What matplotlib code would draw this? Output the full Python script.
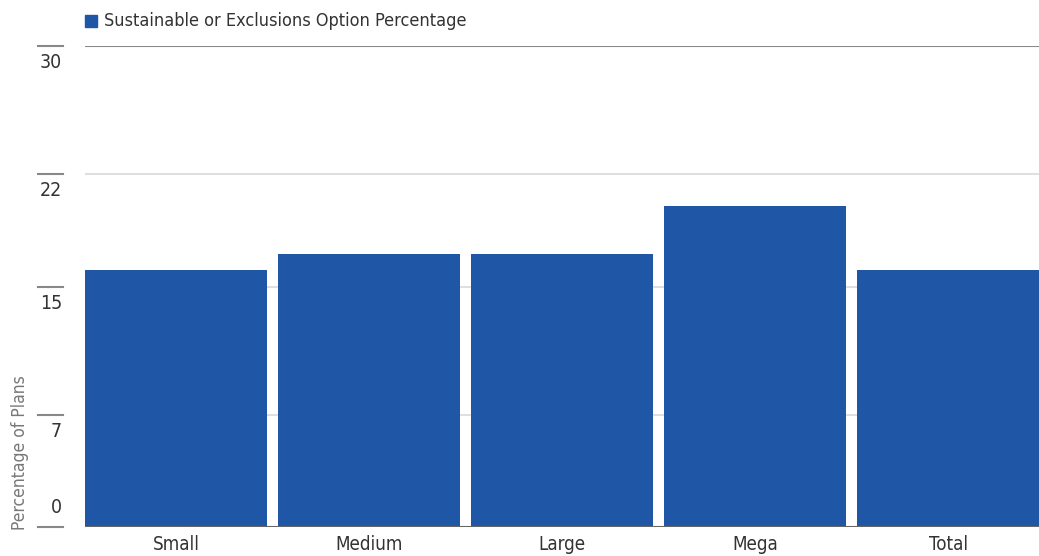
import matplotlib.pyplot as plt
from matplotlib.transforms import blended_transform_factory

# data
categories = ['Small', 'Medium', 'Large', 'Mega', 'Total']
values = [16, 17, 17, 20, 16]
yticks = [0, 7, 15, 22, 30]
series_name = 'Sustainable or Exclusions Option Percentage'

plt.rcParams['font.family'] = ['DejaVu Sans']
plt.rcParams['font.stretch'] = 'condensed'

bar_color = '#1f56a5'
W, H = 1039, 556
bw = 0.9415

fig = plt.figure(figsize=(W / 100, H / 100), dpi=100)
ax = fig.add_axes([85 / W, (H - 527) / H, 1 - 85 / W, (527 - 46) / H])

x = range(len(categories))
ax.bar(x, values, width=bw, color=bar_color, zorder=3)
ax.set_xlim(-bw / 2, len(categories) - 1 + bw / 2)
ax.set_ylim(0, 30)

for s in ax.spines.values():
    s.set_visible(False)
ax.set_yticks([])
ax.set_xticks(list(x))
ax.set_xticklabels(categories, fontsize=13.5, color='#333333')
ax.tick_params(axis='x', length=0, pad=6)

# gridlines + tick marks + labels
tr = blended_transform_factory(fig.transFigure, ax.transData)
for t in yticks:
    if t == 0:
        ax.axhline(t, color='#666666', lw=1.5, zorder=4)
    elif t == 30:
        ax.axhline(t, color='#888888', lw=1.5, zorder=1)
    else:
        ax.axhline(t, color='#d9d9d9', lw=1.2, zorder=1)
    ax.plot([38 / W, 63 / W], [t, t], color='#888888', lw=1.5,
            transform=tr, clip_on=False)
    if t == 0:
        ax.text(62 / W, 0.6, str(t), ha='right', va='bottom', fontsize=14,
                color='#333333', transform=tr)
    else:
        ax.text(62 / W, t - 0.45, str(t), ha='right', va='top', fontsize=14,
                color='#333333', transform=tr)

fig.text(20 / W, (H - 453) / H, 'Percentage of Plans', rotation=90,
         ha='center', va='center', fontsize=12.5, color='#777777')

# legend
fig.patches.append(plt.Rectangle((85 / W, (H - 27) / H), 12 / W, 12 / H,
                                 transform=fig.transFigure, color=bar_color))
fig.text(104 / W, (H - 21) / H, series_name, ha='left', va='center',
         fontsize=13, color='#333333')

fig.savefig('out.png', dpi=100)
